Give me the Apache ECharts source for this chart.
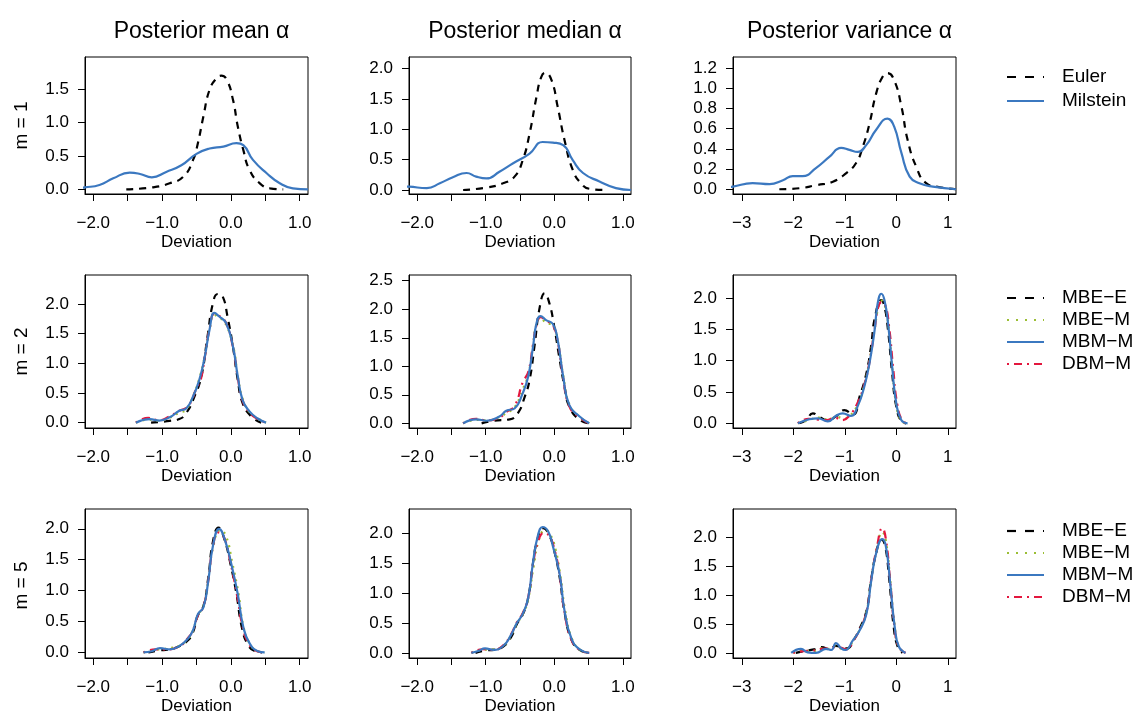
<!DOCTYPE html>
<html>
<head>
<meta charset="utf-8">
<script src="https://cdn.jsdelivr.net/npm/echarts@6/dist/echarts.min.js"></script>
<style>
  html, body { margin: 0; padding: 0; background: #fff; }
  #chart { width: 1134px; height: 716px; }
</style>
</head>
<body>
<div id="chart"></div>
<script>
// ---- data ----
const colTitles = ['Posterior mean α', 'Posterior median α', 'Posterior variance α'];
const rowLabels = ['m = 1', 'm = 2', 'm = 5'];
const namesRow1 = ['Euler', 'Milstein'];
const namesRows = ['MBE−E', 'MBE−M', 'MBM−M', 'DBM−M'];

const xTicksMean = [-2, -1.5, -1, -0.5, 0, 0.5, 1];
const xLabelsMean = [-2, -1, 0, 1];
const xTicksVar = [-3, -2, -1, 0, 1];

const yTicks11 = [0, 0.5, 1, 1.5];
const yTicks12 = [0, 0.5, 1, 1.5, 2];
const yTicks13 = [0, 0.2, 0.4, 0.6, 0.8, 1, 1.2];
const yTicks21 = [0, 0.5, 1, 1.5, 2];
const yTicks22 = [0, 0.5, 1, 1.5, 2, 2.5];
const yTicks23 = [0, 0.5, 1, 1.5, 2];
const yTicks31 = [0, 0.5, 1, 1.5, 2];
const yTicks32 = [0, 0.5, 1, 1.5, 2];
const yTicks33 = [0, 0.5, 1, 1.5, 2];

// m = 1
const r1p1Euler = [[-1.52,0],[-1.13,0.03],[-0.89,0.09],[-0.69,0.19],[-0.55,0.44],[-0.48,0.69],[-0.40,1.09],[-0.31,1.49],[-0.21,1.66],[-0.14,1.70],[-0.06,1.64],[0.03,1.34],[0.10,0.94],[0.18,0.59],[0.27,0.29],[0.42,0.09],[0.57,0.015],[0.76,0]];
const r1p1Milstein = [[-2.3,0.01],[-2.12,0.03],[-1.91,0.065],[-1.71,0.165],[-1.47,0.25],[-1.32,0.23],[-1.15,0.18],[-0.94,0.26],[-0.72,0.36],[-0.50,0.53],[-0.31,0.61],[-0.11,0.64],[0.08,0.69],[0.18,0.66],[0.32,0.44],[0.52,0.24],[0.71,0.09],[0.90,0.015],[1.12,0]];
const r1p2Euler = [[-1.33,0],[-0.99,0.04],[-0.75,0.11],[-0.58,0.22],[-0.46,0.49],[-0.36,0.93],[-0.26,1.53],[-0.19,1.86],[-0.13,1.93],[-0.04,1.81],[0.05,1.37],[0.15,0.82],[0.27,0.33],[0.39,0.11],[0.51,0.02],[0.73,0]];
const r1p2Milstein = [[-2.3,0.06],[-2.12,0.055],[-1.86,0.03],[-1.67,0.11],[-1.48,0.21],[-1.28,0.28],[-1.14,0.22],[-0.99,0.19],[-0.80,0.30],[-0.60,0.44],[-0.36,0.60],[-0.17,0.79],[-0.02,0.78],[0.13,0.74],[0.27,0.49],[0.42,0.28],[0.66,0.14],[0.90,0.03],[1.12,0]];
const r1p3Euler = [[-2.27,0],[-1.88,0.01],[-1.56,0.04],[-1.23,0.075],[-0.97,0.16],[-0.78,0.26],[-0.65,0.42],[-0.52,0.65],[-0.39,0.95],[-0.26,1.12],[-0.17,1.15],[-0.04,1.08],[0.10,0.82],[0.22,0.49],[0.39,0.22],[0.58,0.06],[0.84,0.02],[1.16,0]];
const r1p3Milstein = [[-3.3,0.015],[-3.17,0.026],[-2.79,0.06],[-2.46,0.05],[-2.20,0.09],[-2.01,0.13],[-1.82,0.13],[-1.56,0.21],[-1.30,0.32],[-1.07,0.41],[-0.91,0.39],[-0.75,0.37],[-0.58,0.44],[-0.39,0.59],[-0.17,0.70],[-0.04,0.62],[0.10,0.36],[0.26,0.125],[0.45,0.06],[0.71,0.026],[1.16,0]];

// m = 2
const r2p1MBEE = [[-1.16,0],[-0.89,0.03],[-0.75,0.06],[-0.65,0.16],[-0.53,0.44],[-0.43,0.78],[-0.34,1.45],[-0.26,2.02],[-0.19,2.17],[-0.12,2.13],[-0.05,1.79],[0.03,1.28],[0.10,0.72],[0.17,0.33],[0.30,0.10],[0.44,0]];
const r2p1MBEM = [[-1.38,0],[-1.20,0.05],[-1.05,0.03],[-0.90,0.08],[-0.75,0.17],[-0.65,0.22],[-0.55,0.45],[-0.46,0.74],[-0.38,1.12],[-0.31,1.58],[-0.24,1.82],[-0.17,1.76],[-0.10,1.72],[0.03,1.30],[0.10,0.78],[0.17,0.40],[0.27,0.18],[0.39,0.07],[0.51,0]];
const r2p1MBMM = [[-1.38,0],[-1.18,0.06],[-1.04,0.035],[-0.89,0.09],[-0.75,0.20],[-0.65,0.24],[-0.55,0.44],[-0.46,0.72],[-0.38,1.11],[-0.31,1.57],[-0.24,1.85],[-0.17,1.79],[-0.07,1.68],[0.03,1.28],[0.10,0.78],[0.17,0.38],[0.27,0.19],[0.39,0.07],[0.51,0]];
const r2p1DBMM = [[-1.38,0],[-1.20,0.08],[-1.05,0.04],[-0.90,0.10],[-0.75,0.20],[-0.62,0.28],[-0.50,0.58],[-0.44,0.72],[-0.38,1.10],[-0.31,1.58],[-0.24,1.84],[-0.17,1.80],[-0.07,1.68],[0.03,1.27],[0.10,0.76],[0.17,0.37],[0.27,0.17],[0.39,0.06],[0.51,0]];
const r2p2MBEE = [[-1.06,0],[-0.89,0.045],[-0.65,0.07],[-0.53,0.18],[-0.43,0.47],[-0.36,0.76],[-0.29,1.34],[-0.21,2.05],[-0.14,2.28],[-0.07,2.10],[0.00,1.69],[0.08,1.11],[0.15,0.64],[0.22,0.29],[0.37,0.06],[0.51,0]];
const r2p2MBEM = [[-1.33,0],[-1.14,0.06],[-0.99,0.05],[-0.80,0.11],[-0.70,0.18],[-0.58,0.28],[-0.46,0.60],[-0.38,0.85],[-0.31,1.36],[-0.26,1.74],[-0.20,1.85],[-0.12,1.76],[-0.02,1.72],[0.05,1.45],[0.13,0.84],[0.22,0.33],[0.37,0.11],[0.51,0]];
const r2p2MBMM = [[-1.33,0],[-1.14,0.07],[-0.99,0.045],[-0.80,0.12],[-0.70,0.22],[-0.58,0.26],[-0.46,0.53],[-0.38,0.82],[-0.31,1.34],[-0.26,1.75],[-0.20,1.88],[-0.12,1.81],[-0.02,1.74],[0.05,1.46],[0.13,0.82],[0.22,0.32],[0.37,0.12],[0.51,0]];
const r2p2DBMM = [[-1.33,0],[-1.14,0.08],[-0.99,0.05],[-0.80,0.10],[-0.70,0.20],[-0.58,0.30],[-0.46,0.72],[-0.38,0.90],[-0.31,1.38],[-0.26,1.72],[-0.20,1.86],[-0.12,1.80],[-0.02,1.72],[0.05,1.44],[0.13,0.80],[0.22,0.30],[0.37,0.10],[0.51,0]];
const r2p3MBEE = [[-1.88,0],[-1.75,0.05],[-1.62,0.16],[-1.49,0.10],[-1.33,0.05],[-1.17,0.11],[-1.01,0.21],[-0.84,0.14],[-0.71,0.43],[-0.58,0.80],[-0.49,1.23],[-0.41,1.71],[-0.29,1.97],[-0.23,1.87],[-0.16,1.49],[-0.08,0.80],[0.00,0.27],[0.10,0.03],[0.19,0]];
const r2p3MBEM = [[-1.91,0],[-1.70,0.05],[-1.50,0.09],[-1.33,0.06],[-1.15,0.10],[-1.02,0.08],[-0.90,0.12],[-0.75,0.30],[-0.62,0.62],[-0.52,1.00],[-0.42,1.50],[-0.35,1.85],[-0.29,1.96],[-0.22,1.88],[-0.15,1.55],[-0.08,0.90],[0.00,0.30],[0.10,0.04],[0.22,0]];
const r2p3MBMM = [[-1.91,0],[-1.69,0.064],[-1.52,0.08],[-1.33,0.03],[-1.17,0.12],[-1.04,0.16],[-0.88,0.12],[-0.75,0.27],[-0.62,0.59],[-0.52,0.96],[-0.42,1.49],[-0.36,1.92],[-0.29,2.07],[-0.23,1.97],[-0.16,1.60],[-0.08,0.91],[0.00,0.32],[0.10,0.05],[0.22,0]];
const r2p3DBMM = [[-1.91,0],[-1.70,0.07],[-1.52,0.06],[-1.35,0.05],[-1.20,0.09],[-1.05,0.05],[-0.90,0.13],[-0.75,0.33],[-0.62,0.62],[-0.52,0.98],[-0.42,1.50],[-0.35,1.86],[-0.28,1.94],[-0.21,1.88],[-0.14,1.55],[-0.06,0.88],[0.02,0.30],[0.12,0.04],[0.22,0]];

// m = 5
const r3p1MBEE = [[-1.20,0],[-1.05,0.03],[-0.90,0.05],[-0.75,0.10],[-0.62,0.20],[-0.55,0.33],[-0.48,0.60],[-0.40,0.75],[-0.33,1.20],[-0.26,1.80],[-0.18,2.02],[-0.10,1.85],[0.00,1.40],[0.08,0.95],[0.16,0.40],[0.25,0.12],[0.35,0.02],[0.45,0]];
const r3p1MBEM = [[-1.27,0],[-1.10,0.04],[-0.95,0.06],[-0.75,0.11],[-0.62,0.22],[-0.55,0.36],[-0.48,0.60],[-0.40,0.74],[-0.33,1.15],[-0.26,1.70],[-0.15,1.98],[-0.07,1.88],[0.02,1.45],[0.11,0.95],[0.18,0.43],[0.27,0.15],[0.39,0.02],[0.49,0]];
const r3p1MBMM = [[-1.27,0],[-1.15,0.02],[-1.03,0.07],[-0.89,0.05],[-0.74,0.11],[-0.62,0.23],[-0.55,0.36],[-0.48,0.62],[-0.40,0.73],[-0.33,1.15],[-0.26,1.73],[-0.17,2.00],[-0.09,1.83],[0.01,1.41],[0.10,0.94],[0.18,0.41],[0.27,0.15],[0.39,0.02],[0.49,0]];
const r3p1DBMM = [[-1.27,0],[-1.10,0.05],[-0.95,0.05],[-0.75,0.10],[-0.62,0.24],[-0.55,0.36],[-0.48,0.60],[-0.40,0.74],[-0.33,1.15],[-0.26,1.72],[-0.18,1.94],[-0.10,1.86],[0.00,1.42],[0.09,0.92],[0.17,0.42],[0.26,0.14],[0.38,0.02],[0.49,0]];
const r3p2MBEE = [[-1.15,0],[-1.00,0.04],[-0.88,0.05],[-0.75,0.10],[-0.63,0.26],[-0.55,0.47],[-0.46,0.64],[-0.38,0.92],[-0.31,1.50],[-0.24,1.92],[-0.16,2.08],[-0.08,1.98],[0.00,1.70],[0.08,1.25],[0.15,0.68],[0.25,0.22],[0.37,0.05],[0.50,0]];
const r3p2MBEM = [[-1.21,0],[-1.05,0.05],[-0.89,0.06],[-0.75,0.11],[-0.63,0.29],[-0.55,0.48],[-0.46,0.64],[-0.38,0.90],[-0.30,1.45],[-0.22,1.90],[-0.13,2.05],[-0.06,1.98],[0.02,1.72],[0.09,1.28],[0.16,0.70],[0.26,0.23],[0.38,0.05],[0.51,0]];
const r3p2MBMM = [[-1.21,0],[-1.11,0.03],[-1.01,0.075],[-0.89,0.05],[-0.75,0.11],[-0.63,0.30],[-0.55,0.49],[-0.46,0.65],[-0.38,0.92],[-0.31,1.51],[-0.24,1.95],[-0.17,2.10],[-0.09,2.03],[-0.02,1.78],[0.08,1.30],[0.15,0.70],[0.25,0.24],[0.37,0.06],[0.51,0]];
const r3p2DBMM = [[-1.21,0],[-1.05,0.06],[-0.89,0.05],[-0.75,0.12],[-0.63,0.31],[-0.55,0.50],[-0.46,0.66],[-0.38,0.93],[-0.31,1.48],[-0.23,1.88],[-0.15,2.00],[-0.08,1.96],[0.00,1.74],[0.08,1.28],[0.15,0.68],[0.25,0.22],[0.37,0.05],[0.51,0]];
const r3p3MBEE = [[-1.95,0],[-1.80,0.03],[-1.60,0.06],[-1.45,0.10],[-1.30,0.06],[-1.17,0.12],[-1.05,0.10],[-0.95,0.08],[-0.84,0.20],[-0.71,0.42],[-0.58,0.72],[-0.49,1.25],[-0.39,1.72],[-0.29,1.95],[-0.22,1.86],[-0.14,1.30],[-0.05,0.45],[0.03,0.10],[0.12,0]];
const r3p3MBEM = [[-2.00,0],[-1.82,0.04],[-1.62,0.03],[-1.45,0.08],[-1.30,0.07],[-1.18,0.12],[-1.05,0.07],[-0.95,0.07],[-0.84,0.21],[-0.71,0.40],[-0.58,0.70],[-0.49,1.22],[-0.38,1.78],[-0.27,2.08],[-0.20,1.92],[-0.12,1.28],[-0.03,0.46],[0.05,0.10],[0.18,0]];
const r3p3MBMM = [[-2.04,0],[-1.85,0.07],[-1.72,0.01],[-1.56,0],[-1.36,0.07],[-1.26,0.05],[-1.17,0.17],[-1.07,0.08],[-0.99,0.05],[-0.84,0.22],[-0.71,0.39],[-0.58,0.67],[-0.49,1.22],[-0.39,1.72],[-0.27,1.96],[-0.20,1.83],[-0.12,1.22],[-0.03,0.45],[0.05,0.11],[0.18,0]];
const r3p3DBMM = [[-2.00,0],[-1.80,0.03],[-1.62,0.04],[-1.45,0.07],[-1.30,0.08],[-1.20,0.10],[-1.08,0.09],[-0.95,0.06],[-0.84,0.20],[-0.71,0.40],[-0.58,0.70],[-0.49,1.24],[-0.38,1.80],[-0.27,2.15],[-0.20,1.95],[-0.12,1.25],[-0.03,0.42],[0.05,0.10],[0.18,0]];

// ---- layout / styles ----
const font = "'Liberation Sans', Arial, Helvetica, sans-serif";
const blue = '#3B78C0';
const colLeft = [85, 409, 733];
const colWidth = [223, 222, 223];
const rowTop = [57, 275, 509];
const rowHeight = [137, 153, 153];
const xRange = [[-2.12, 1.12], [-2.12, 1.12], [-3.17, 1.16]];

const lineStyles = {
  'Euler':   { color: '#000', type: [7, 6], key: [9, 9], z: 2 },
  'Milstein':{ color: blue, type: 'solid', z: 3 },
  'MBE−E':   { color: '#000', type: [7, 6], key: [9, 9], z: 2 },
  'MBE−M':   { color: '#9BBE34', type: [2, 5], key: [2, 7], z: 3 },
  'DBM−M':   { color: '#E3173E', type: [2, 5, 8, 5], z: 4 },
  'MBM−M':   { color: blue, type: 'solid', z: 5 }
};

const panels = [
  { row: 0, col: 0, y: [-0.07, 1.98],  yTicks: yTicks11, curves: { 'Euler': r1p1Euler, 'Milstein': r1p1Milstein } },
  { row: 0, col: 1, y: [-0.066, 2.19], yTicks: yTicks12, curves: { 'Euler': r1p2Euler, 'Milstein': r1p2Milstein } },
  { row: 0, col: 2, y: [-0.047, 1.31], yTicks: yTicks13, curves: { 'Euler': r1p3Euler, 'Milstein': r1p3Milstein } },
  { row: 1, col: 0, y: [-0.09, 2.49],  yTicks: yTicks21, curves: { 'MBE−E': r2p1MBEE, 'MBE−M': r2p1MBEM, 'DBM−M': r2p1DBMM, 'MBM−M': r2p1MBMM } },
  { row: 1, col: 1, y: [-0.082, 2.60], yTicks: yTicks22, curves: { 'MBE−E': r2p2MBEE, 'MBE−M': r2p2MBEM, 'DBM−M': r2p2DBMM, 'MBM−M': r2p2MBMM } },
  { row: 1, col: 2, y: [-0.075, 2.37], yTicks: yTicks23, curves: { 'MBE−E': r2p3MBEE, 'MBE−M': r2p3MBEM, 'DBM−M': r2p3DBMM, 'MBM−M': r2p3MBMM } },
  { row: 2, col: 0, y: [-0.09, 2.32],  yTicks: yTicks31, curves: { 'MBE−E': r3p1MBEE, 'MBE−M': r3p1MBEM, 'DBM−M': r3p1DBMM, 'MBM−M': r3p1MBMM } },
  { row: 2, col: 1, y: [-0.086, 2.40], yTicks: yTicks32, curves: { 'MBE−E': r3p2MBEE, 'MBE−M': r3p2MBEM, 'DBM−M': r3p2DBMM, 'MBM−M': r3p2MBMM } },
  { row: 2, col: 2, y: [-0.088, 2.48], yTicks: yTicks33, curves: { 'MBE−E': r3p3MBEE, 'MBE−M': r3p3MBEM, 'DBM−M': r3p3DBMM, 'MBM−M': r3p3MBMM } }
];

const fmt = (v, d) => (v < 0 ? '\u2212' : '') + Math.abs(v).toFixed(d);

const grid = [], xAxis = [], yAxis = [], series = [];
panels.forEach((p, i) => {
  grid.push({
    left: colLeft[p.col], top: rowTop[p.row], width: colWidth[p.col], height: rowHeight[p.row],
    show: true, borderColor: '#000', borderWidth: 1, backgroundColor: 'transparent'
  });
  const isVar = p.col === 2;
  xAxis.push({
    type: 'value', gridIndex: i, min: xRange[p.col][0], max: xRange[p.col][1],
    axisLine: { show: true, onZero: false, lineStyle: { color: '#000', width: 1 } },
    splitLine: { show: false },
    axisTick: { length: 7, customValues: isVar ? xTicksVar : xTicksMean, lineStyle: { color: '#000' } },
    axisLabel: {
      customValues: isVar ? xTicksVar : xLabelsMean, color: '#000', fontSize: 17, fontFamily: font, margin: 21,
      formatter: v => fmt(v, isVar ? 0 : 1)
    },
    name: 'Deviation', nameLocation: 'middle', nameGap: 40,
    nameTextStyle: { color: '#000', fontSize: 17, fontFamily: font }
  });
  yAxis.push({
    type: 'value', gridIndex: i, min: p.y[0], max: p.y[1],
    axisLine: { show: true, onZero: false, lineStyle: { color: '#000', width: 1 } },
    splitLine: { show: false },
    axisTick: { length: 7, customValues: p.yTicks, lineStyle: { color: '#000' } },
    axisLabel: {
      customValues: p.yTicks, color: '#000', fontSize: 17, fontFamily: font, margin: 16,
      formatter: v => fmt(v, 1)
    }
  });
  Object.keys(p.curves).forEach(name => {
    const s = lineStyles[name];
    series.push({
      name: name, type: 'line', xAxisIndex: i, yAxisIndex: i,
      data: p.curves[name], symbol: 'none', smooth: 0.5,
      clip: true, z: s.z, silent: true, animation: false,
      lineStyle: { color: s.color, width: 2.2, type: s.type },
      itemStyle: { color: s.color }
    });
  });
});

// legend keys drawn beside each row
const legendTop = [77, 298, 531];
const legendStep = [24, 22, 22];
const legendGraphics = [];
[namesRow1, namesRows, namesRows].forEach((names, r) => {
  names.forEach((name, k) => {
    const s = lineStyles[name];
    const y = legendTop[r] + k * legendStep[r];
    legendGraphics.push({
      type: 'line', shape: { x1: 1007, y1: y, x2: 1044, y2: y },
      style: { stroke: s.color, lineWidth: 2.2, lineDash: s.type === 'solid' ? null : (s.key || s.type) }
    });
    legendGraphics.push({
      type: 'text', x: 1062, y: y,
      style: { text: name, fill: '#000', font: '19px ' + font, align: 'left', verticalAlign: 'middle' }
    });
  });
});

const chart = echarts.init(document.getElementById('chart'));
chart.setOption({
  animation: false,
  backgroundColor: '#fff',
  title: colTitles.map((t, c) => ({
    text: t, left: colLeft[c] + colWidth[c] / 2, top: 15, textAlign: 'center',
    textStyle: { color: '#000', fontSize: 23, fontWeight: 'normal', fontFamily: font }
  })),
  graphic: rowLabels.map((t, r) => ({
    type: 'text', x: 22, y: rowTop[r] + rowHeight[r] / 2, rotation: Math.PI / 2,
    style: { text: t, fill: '#000', font: '19px ' + font, align: 'center', verticalAlign: 'middle' }
  })).concat(legendGraphics),
  grid: grid,
  xAxis: xAxis,
  yAxis: yAxis,
  series: series
});
</script>
</body>
</html>
